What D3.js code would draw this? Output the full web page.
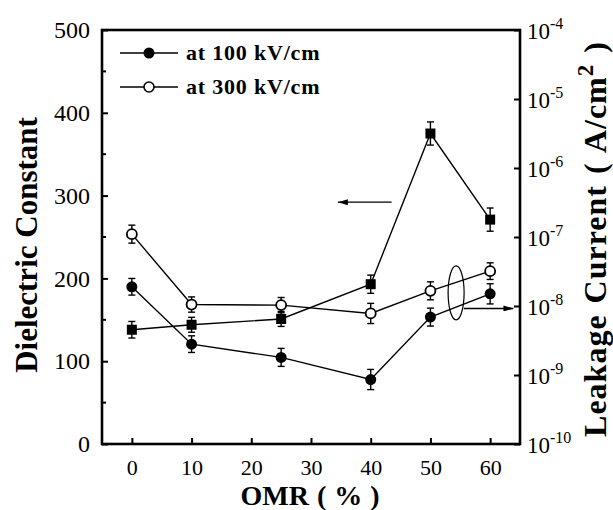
<!DOCTYPE html>
<html><head><meta charset="utf-8">
<script src="https://cdn.jsdelivr.net/npm/d3@7"></script>
<style>
body{margin:0;background:#fff}
svg text{font-family:"Liberation Serif","DejaVu Serif","Times New Roman",Times,serif}
</style>
</head><body>
<svg id="chart" width="613" height="510"></svg>
<script>
// OMR content (%) for each film
const omr = [0, 10, 25, 40, 50, 60];
// Dielectric constant (left axis)
const dielectric = [138, 144, 151, 193, 375, 271];
const dielectricErr = [10, 9, 9, 11, 14, 14];
// Leakage current density, A/cm^2 (right axis); errors are multiplicative factors
const leak100 = [1.9e-8, 2.8e-9, 1.8e-9, 8.6e-10, 6.9e-9, 1.5e-8];
const leak100Err = [1.32, 1.32, 1.35, 1.4, 1.35, 1.4];
const leak300 = [1.1e-7, 1.05e-8, 1.03e-8, 7.8e-9, 1.66e-8, 3.2e-8];
const leak300Err = [1.35, 1.29, 1.29, 1.4, 1.35, 1.32];
// Axis ticks
const xTicks = [0, 10, 20, 30, 40, 50, 60];
const leftTicks = [0, 100, 200, 300, 400, 500];
const leftMinor = [50, 150, 250, 350, 450];
const rightExponents = [-10, -9, -8, -7, -6, -5, -4];
const legendLabels = ["at 100 kV/cm", "at 300 kV/cm"];
// Annotation anchors (data coordinates)
const leftArrow = {x1: 43.5, x2: 34.5, y: 292};
const ellipseAt = {x: 54.3, y: 1.55e-8};
const rightArrow = {x1: 55.6, x2: 63.9, y: 9.2e-9};

const svg = d3.select("#chart");
const L = 102, R = 520, T = 30, B = 444;

const x = d3.scaleLinear([-5, 65], [L, R]);
const yL = d3.scaleLinear([0, 500], [B, T]);
const yR = d3.scaleLog([1e-10, 1e-4], [B, T]);

const defs = svg.append("defs");
defs.append("marker").attr("id", "head").attr("viewBox", "0 0 10 6")
  .attr("refX", 10).attr("refY", 3).attr("markerWidth", 10).attr("markerHeight", 6)
  .attr("markerUnits", "userSpaceOnUse").attr("orient", "auto")
  .append("path").attr("d", "M0,0L10,3L0,6Z").attr("fill", "#000");

function styleTicks(size) {
  return g => {
    g.attr("font-family", null);
    g.select(".domain").remove();
    g.selectAll(".tick line").attr("stroke-width", 2);
    g.selectAll(".tick text").attr("font-size", size).attr("fill", "#000");
  };
}

// Bottom axis
svg.append("g").attr("transform", `translate(0,${B})`)
  .call(d3.axisBottom(x).tickValues(xTicks).tickSizeInner(-6).tickSizeOuter(0).tickPadding(15))
  .call(styleTicks(22));

// Left axis
svg.append("g").attr("transform", `translate(${L},0)`)
  .call(d3.axisLeft(yL).tickValues(leftTicks).tickSizeInner(-6).tickSizeOuter(0).tickPadding(12))
  .call(styleTicks(24));
svg.append("g").selectAll("line").data(leftMinor).join("line")
  .attr("x1", L).attr("x2", L + 4).attr("y1", d => yL(d)).attr("y2", d => yL(d))
  .attr("stroke", "#000").attr("stroke-width", 2);

// Right axis (log)
const gr = svg.append("g").attr("transform", `translate(${R},0)`)
  .call(d3.axisRight(yR).tickValues(rightExponents.map(e => Math.pow(10, e)))
    .tickSizeInner(-6).tickSizeOuter(0).tickPadding(7).tickFormat(() => ""))
  .call(styleTicks(23));
gr.selectAll(".tick text").each(function(d) {
  const t = d3.select(this).attr("dy", "0.35em");
  t.append("tspan").text("10");
  t.append("tspan").attr("dy", -10).attr("font-size", 16).text(String(Math.round(Math.log10(d))));
});

// Frame
svg.append("rect").attr("x", L).attr("y", T).attr("width", R - L).attr("height", B - T)
  .attr("fill", "none").attr("stroke", "#000").attr("stroke-width", 2.6);

// Axis titles
svg.append("text").attr("transform", `translate(37,${(T + B) / 2 + 8}) rotate(-90)`)
  .attr("text-anchor", "middle").attr("font-weight", "bold")
  .attr("font-size", 31).text("Dielectric Constant");
const rt = svg.append("text").attr("transform", `translate(606,${(T + B) / 2 + 2}) rotate(-90)`)
  .attr("text-anchor", "middle").attr("font-weight", "bold")
  .attr("font-size", 32).attr("word-spacing", 2).attr("letter-spacing", 1);
rt.append("tspan").text("Leakage Current ( A/cm");
rt.append("tspan").attr("dy", -13).attr("font-size", 23).text("2");
rt.append("tspan").attr("dy", 13).text(" )");
svg.append("text").attr("x", 310).attr("y", 505).attr("text-anchor", "middle")
  .attr("font-weight", "bold").attr("font-size", 28).attr("word-spacing", 1).text("OMR ( % )");

// Series
const series = [
  {vals: dielectric, err: dielectricErr, y: yL, lin: true, shape: "square"},
  {vals: leak300, err: leak300Err, y: yR, lin: false, shape: "open"},
  {vals: leak100, err: leak100Err, y: yR, lin: false, shape: "filled"}
];
const plot = svg.append("g");
series.forEach(s => {
  const pts = omr.map((o, i) => ({o, v: s.vals[i], e: s.err[i]}));
  plot.append("path").datum(pts)
    .attr("d", d3.line().x(d => x(d.o)).y(d => s.y(d.v)))
    .attr("fill", "none").attr("stroke", "#000").attr("stroke-width", 1.4);
  const g = plot.append("g").selectAll("g").data(pts).join("g");
  const lo = d => s.lin ? s.y(d.v - d.e) : s.y(d.v / d.e);
  const hi = d => s.lin ? s.y(d.v + d.e) : s.y(d.v * d.e);
  g.append("line").attr("x1", d => x(d.o)).attr("x2", d => x(d.o))
    .attr("y1", lo).attr("y2", hi).attr("stroke", "#000").attr("stroke-width", 1.4);
  [lo, hi].forEach(f => g.append("line").attr("x1", d => x(d.o) - 3.5).attr("x2", d => x(d.o) + 3.5)
    .attr("y1", f).attr("y2", f).attr("stroke", "#000").attr("stroke-width", 1.4));
  if (s.shape === "square") {
    g.append("rect").attr("x", d => x(d.o) - 5).attr("y", d => s.y(d.v) - 5)
      .attr("width", 10).attr("height", 10).attr("fill", "#000");
  } else if (s.shape === "filled") {
    g.append("circle").attr("cx", d => x(d.o)).attr("cy", d => s.y(d.v)).attr("r", 5.5).attr("fill", "#000");
  } else {
    g.append("circle").attr("cx", d => x(d.o)).attr("cy", d => s.y(d.v)).attr("r", 5)
      .attr("fill", "#fff").attr("stroke", "#000").attr("stroke-width", 1.8);
  }
});

// Legend
const leg = svg.append("g");
legendLabels.forEach((lab, i) => {
  const y = 53 + i * 34;
  leg.append("line").attr("x1", 120).attr("x2", 178).attr("y1", y).attr("y2", y)
    .attr("stroke", "#000").attr("stroke-width", 1.4);
  if (i === 0) leg.append("circle").attr("cx", 149).attr("cy", y).attr("r", 5.5).attr("fill", "#000");
  else leg.append("circle").attr("cx", 149).attr("cy", y).attr("r", 5)
    .attr("fill", "#fff").attr("stroke", "#000").attr("stroke-width", 1.6);
  leg.append("text").attr("x", 186).attr("y", y + 7)
    .attr("font-weight", "bold").attr("font-size", 22).attr("letter-spacing", 0.8).text(lab);
});

// Annotations: arrows pointing to each axis, ellipse grouping the leakage curves
svg.append("line").attr("x1", x(leftArrow.x1)).attr("x2", x(leftArrow.x2))
  .attr("y1", yL(leftArrow.y)).attr("y2", yL(leftArrow.y))
  .attr("stroke", "#000").attr("stroke-width", 1.3).attr("marker-end", "url(#head)");
svg.append("ellipse").attr("cx", x(ellipseAt.x)).attr("cy", yR(ellipseAt.y))
  .attr("rx", 8).attr("ry", 27).attr("fill", "none").attr("stroke", "#000").attr("stroke-width", 1.2);
svg.append("line").attr("x1", x(rightArrow.x1)).attr("x2", x(rightArrow.x2))
  .attr("y1", yR(rightArrow.y)).attr("y2", yR(rightArrow.y))
  .attr("stroke", "#000").attr("stroke-width", 1.3).attr("marker-end", "url(#head)");
</script>
</body></html>
